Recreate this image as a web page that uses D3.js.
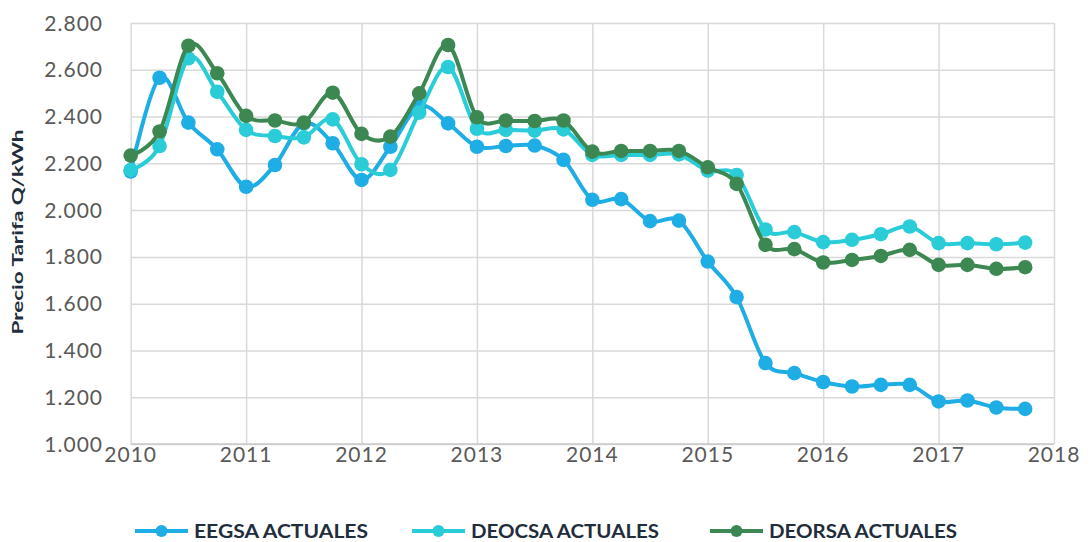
<!DOCTYPE html>
<html>
<head>
<meta charset="utf-8">
<script src="https://cdn.jsdelivr.net/npm/d3@7"></script>
<style>
    body { margin: 0; background: #fff; }
    svg { display: block; }
</style>
</head>
<body>
<div id="dataviz"></div>
<script>
// quarters 2010.00 ... 2017.75
const quarters = d3.range(32).map(i => 2010 + i * 0.25);

const eegsa = [2.165, 2.566, 2.374, 2.260, 2.100, 2.193, 2.371, 2.286,
    2.129, 2.271, 2.445, 2.371, 2.271, 2.274, 2.276, 2.215,
    2.044, 2.047, 1.953, 1.955, 1.780, 1.628, 1.346, 1.303,
    1.265, 1.246, 1.253, 1.253, 1.182, 1.186, 1.156, 1.150];

const deocsa = [2.172, 2.274, 2.649, 2.506, 2.343, 2.317, 2.311, 2.388,
    2.196, 2.172, 2.417, 2.612, 2.348, 2.343, 2.340, 2.345,
    2.236, 2.236, 2.236, 2.238, 2.169, 2.150, 1.917, 1.906,
    1.863, 1.873, 1.897, 1.930, 1.859, 1.859, 1.854, 1.861];

const deorsa = [2.233, 2.336, 2.703, 2.585, 2.403, 2.383, 2.374, 2.502,
    2.326, 2.314, 2.499, 2.706, 2.397, 2.383, 2.381, 2.383,
    2.250, 2.253, 2.253, 2.253, 2.183, 2.112, 1.852, 1.833,
    1.776, 1.787, 1.804, 1.830, 1.766, 1.766, 1.749, 1.756];

const seriesNames = ['EEGSA ACTUALES', 'DEOCSA ACTUALES', 'DEORSA ACTUALES'];
const seriesColors = ['#1EADE4', '#2ACDD7', '#3D8852'];
const xTicks = d3.range(2010, 2019);
const yTicks = d3.range(1.0, 2.81, 0.2);

(() => {
    const w = 1091;
    const h = 542;
    const plotL = 130.7, plotR = 1054, plotT = 23, plotB = 444;

    const svg = d3.select('#dataviz')
        .append('svg')
        .attr('width', w)
        .attr('height', h);

    const xScale = d3.scaleLinear().domain([2010, 2018]).range([plotL, plotR]);
    const yScale = d3.scaleLinear().domain([1.0, 2.8]).range([plotB, plotT]);

    const tickFont = '"Century Gothic", Lato, "DejaVu Sans", sans-serif';

    // gridlines
    svg.append('g')
        .attr('transform', `translate(0,${plotB})`)
        .call(d3.axisBottom(xScale).tickValues(xTicks).tickSize(-(plotB - plotT)).tickFormat(''))
        .call(g => g.select('.domain').remove())
        .call(g => g.selectAll('line').attr('stroke', '#D9D9D9').attr('stroke-width', 1.5));

    svg.append('g')
        .attr('transform', `translate(${plotL},0)`)
        .call(d3.axisLeft(yScale).tickValues(yTicks).tickSize(-(plotR - plotL)).tickFormat(''))
        .call(g => g.select('.domain').remove())
        .call(g => g.selectAll('line').attr('stroke', '#D9D9D9').attr('stroke-width', 1.5));

    svg.append('line')
        .attr('x1', plotL).attr('x2', plotR)
        .attr('y1', plotB).attr('y2', plotB)
        .attr('stroke', '#C8C8C8').attr('stroke-width', 1.5);

    // tick labels
    svg.append('g')
        .selectAll('text')
        .data(yTicks)
        .enter()
        .append('text')
        .attr('x', 103)
        .attr('y', d => yScale(d))
        .attr('dy', '0.36em')
        .attr('text-anchor', 'end')
        .style('font-family', tickFont)
        .style('font-size', '21px')
        .style('letter-spacing', '1px')
        .style('fill', '#595959')
        .text(d3.format('.3f'));

    svg.append('g')
        .selectAll('text')
        .data(xTicks)
        .enter()
        .append('text')
        .attr('x', d => xScale(d))
        .attr('y', 462)
        .attr('text-anchor', 'middle')
        .style('font-family', tickFont)
        .style('font-size', '21px')
        .style('letter-spacing', '1px')
        .style('fill', '#595959')
        .text(d => d);

    svg.append('text')
        .attr('transform', 'translate(23,232) rotate(-90)')
        .attr('text-anchor', 'middle')
        .style('font-family', tickFont)
        .style('font-size', '16px')
        .style('font-weight', 'bold')
        .style('fill', '#1F2D3C')
        .attr('textLength', 205)
        .attr('lengthAdjust', 'spacingAndGlyphs')
        .text('Precio Tarifa Q/kWh');

    // series
    const line = d3.line()
        .x(d => xScale(d[0]))
        .y(d => yScale(d[1]))
        .curve(d3.curveCardinal.tension(0));

    [eegsa, deocsa, deorsa].forEach((values, s) => {
        const pts = quarters.map((q, i) => [q, values[i]]);
        const g = svg.append('g');
        g.append('path')
            .attr('d', line(pts))
            .attr('fill', 'none')
            .attr('stroke', seriesColors[s])
            .attr('stroke-width', 4);
        g.selectAll('circle')
            .data(pts)
            .enter()
            .append('circle')
            .attr('cx', d => xScale(d[0]))
            .attr('cy', d => yScale(d[1]))
            .attr('r', 7.3)
            .attr('fill', seriesColors[s]);
    });

    // legend
    const legendX = [135, 412, 710];
    const legendW = [174, 188, 188];
    const legend = svg.append('g');
    seriesNames.forEach((name, s) => {
        const x0 = legendX[s];
        legend.append('line')
            .attr('x1', x0).attr('x2', x0 + 53)
            .attr('y1', 531).attr('y2', 531)
            .attr('stroke', seriesColors[s])
            .attr('stroke-width', 4);
        legend.append('circle')
            .attr('cx', x0 + 26.5).attr('cy', 531)
            .attr('r', 6)
            .attr('fill', seriesColors[s]);
        legend.append('text')
            .attr('x', x0 + 59)
            .attr('y', 531)
            .attr('dy', '0.36em')
            .style('font-family', tickFont)
            .style('font-size', '18.5px')
            .style('font-weight', 'bold')
            .style('fill', '#1F2D3C')
            .attr('textLength', legendW[s])
            .attr('lengthAdjust', 'spacingAndGlyphs')
            .text(name);
    });
})();
</script>
</body>
</html>
